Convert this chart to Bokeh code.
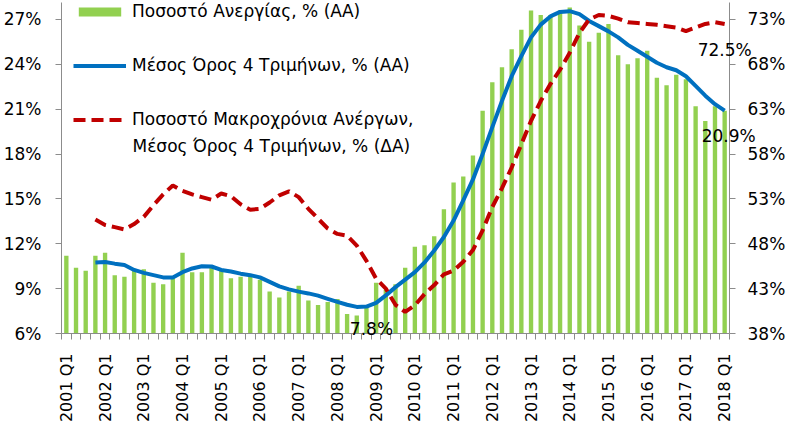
import math
from bokeh.plotting import figure
from bokeh.models import (Range1d, LinearAxis, FixedTicker, PrintfTickFormatter,
                          Legend, LegendItem, ColumnDataSource, Label)
from bokeh.core.properties import value
from bokeh.embed import file_html
from bokeh.resources import INLINE

# ---------------- data ----------------
quarters = [f"{y} Q{q}" for y in range(2001, 2019) for q in range(1, 5)][:69]

# Unemployment rate, % (left axis) - bars
unemployment = [
    11.2, 10.4, 10.2, 11.2,
    11.4, 9.9, 9.8, 10.3,
    10.3, 9.4, 9.3, 9.7,
    11.4, 10.1, 10.1, 10.4,
    10.2, 9.7, 9.8, 9.8,
    9.6, 8.8, 8.4, 8.8,
    9.2, 8.2, 7.9, 8.1,
    8.3, 7.3, 7.2, 7.9,
    9.4, 8.9, 9.3, 10.4,
    11.8, 11.9, 12.5, 14.3,
    16.1, 16.5, 17.9, 20.9,
    22.8, 23.8, 25.0, 26.3,
    27.6, 27.3, 27.3, 27.6,
    27.8, 26.6, 25.5, 26.1,
    26.7, 24.6, 24.0, 24.4,
    24.9, 23.1, 22.6, 23.3,
    23.0, 21.2, 20.2, 21.2,
    20.9,
]

# 4-quarter average unemployment, % (left axis) - blue line
avg4q = [
    None, None, None, 10.75,
    10.78, 10.67, 10.58, 10.25,
    10.05, 9.9, 9.75, 9.75,
    10.1, 10.35, 10.5, 10.48,
    10.25, 10.15, 10.0, 9.9,
    9.75, 9.45, 9.15, 8.95,
    8.8, 8.68, 8.53, 8.32,
    8.12, 7.92, 7.78, 7.8,
    8.05, 8.55, 9.1, 9.6,
    10.1, 10.75, 11.55, 12.45,
    13.55, 14.9, 16.3, 18.0,
    19.8, 21.55, 23.2, 24.55,
    25.8, 26.65, 27.2, 27.5,
    27.55, 27.35, 26.9, 26.55,
    26.2, 25.8, 25.3, 24.9,
    24.5, 24.1, 23.8, 23.6,
    23.2, 22.55, 21.9, 21.33,
    20.9,
]

# Long-term unemployed share, 4-quarter average, % (right axis) - red dashed
longterm = [
    None, None, None, 50.7,
    50.1, 49.85, 49.6, 50.2,
    51.0, 52.3, 53.5, 54.5,
    53.9, 53.5, 53.2, 52.9,
    53.6, 53.3, 52.4, 51.8,
    51.9, 52.6, 53.4, 53.85,
    53.2, 51.9, 50.8, 49.7,
    49.1, 48.9, 47.8, 46.1,
    44.1, 43.0, 41.2, 40.4,
    41.15, 42.4, 43.4, 44.6,
    45.0, 46.0, 47.3, 49.5,
    52.1, 54.2, 56.5, 59.1,
    61.7, 63.9, 65.8, 67.4,
    69.3, 71.5, 73.0, 73.5,
    73.4, 73.1, 72.7, 72.6,
    72.5, 72.4, 72.25, 72.1,
    71.7, 72.1, 72.5, 72.7,
    72.5,
]

left_ticks = [6, 9, 12, 15, 18, 21, 24, 27]
right_ticks = [38, 43, 48, 53, 58, 63, 68, 73]
labels_every = 4

series_names = [
    "Ποσοστό Ανεργίας, % (ΑΑ)",
    "Μέσος Όρος 4 Τριμήνων, % (ΑΑ)",
    "Ποσοστό Μακροχρόνια Ανέργων,",
]
series3_line2 = "Μέσος Όρος 4 Τριμήνων, % (ΔΑ)"

# ---------------- style ----------------
FONT = "DejaVu Sans"
FS = "17px"
FSX = "16px"
GREEN = "#92D050"
BLUE = "#0070C0"
RED = "#C00000"
AXIS = "#8C8C8C"

n = len(quarters)
x = list(range(n))
nan = float("nan")
src = ColumnDataSource(dict(
    x=x,
    unemp=unemployment,
    avg=[nan if v is None else v for v in avg4q],
    lt=[nan if v is None else v for v in longterm],
))

p = figure(width=789, height=425, output_backend="svg", toolbar_location=None,
           x_range=Range1d(-0.5, n - 0.5), y_range=Range1d(6, 28.13),
           min_border_left=60, min_border_right=60, min_border_top=2,
           min_border_bottom=91)
p.extra_y_ranges = {"right": Range1d(38, 74.89)}
p.xgrid.visible = False
p.ygrid.visible = False
p.outline_line_color = None
p.background_fill_color = "white"
p.border_fill_color = "white"

bars = p.vbar(x="x", top="unemp", bottom=0, width=0.45, source=src,
              fill_color=GREEN, line_color=None)
blue = p.line("x", "avg", source=src, line_color=BLUE, line_width=4,
              line_join="round")
red = p.line("x", "lt", source=src, y_range_name="right", line_color=RED,
             line_width=4, line_dash="12 6")

# x axis
xa = p.xaxis[0]
xa.ticker = FixedTicker(ticks=list(range(0, n, labels_every)),
                        minor_ticks=[i - 0.5 for i in range(n + 1)])
xa.major_label_overrides = {i: quarters[i] for i in range(0, n, labels_every)}
xa.major_label_orientation = math.pi / 2
xa.major_tick_line_color = None
xa.major_tick_out = 0
xa.major_tick_in = 0
xa.minor_tick_out = 6
xa.minor_tick_in = 0
xa.minor_tick_line_color = AXIS
xa.axis_line_color = AXIS
xa.major_label_standoff = 14
xa.major_label_text_font_size = FSX

# left axis
ya = p.yaxis[0]
ya.ticker = FixedTicker(ticks=left_ticks)
ya.formatter = PrintfTickFormatter(format="%d%%")
ya.major_label_text_font_size = FS

# right axis
ra = LinearAxis(y_range_name="right", ticker=FixedTicker(ticks=right_ticks),
                formatter=PrintfTickFormatter(format="%d%%"))
ra.major_label_text_font_size = FS
p.add_layout(ra, "right")

for ax, so in ((ya, 14), (ra, 12)):
    ax.minor_tick_line_color = None
    ax.major_tick_out = 6
    ax.major_tick_in = 0
    ax.major_tick_line_color = AXIS
    ax.axis_line_color = AXIS
    ax.major_label_standoff = so

for ax in (xa, ya, ra):
    ax.major_label_text_font = FONT
    ax.major_label_text_color = "#000000"

# data labels: text glyphs at overlay level so the frame does not clip them
def add_label(idx, vals, dx, dy, rng="default"):
    p.text(x=[idx], y=[vals[idx]], text=[f"{vals[idx]:.1f}%"], y_range_name=rng,
           x_offset=dx, y_offset=dy, text_font=value(FONT),
           text_font_size=FS, text_align="center", text_baseline="middle",
           text_color="#000000", level="overlay")

add_label(31, avg4q, 5, 22)
add_label(n - 1, avg4q, 4, 25)
add_label(n - 1, longterm, 0, 26, "right")

legend = Legend(items=[LegendItem(label=series_names[0], renderers=[bars]),
                       LegendItem(label=series_names[1], renderers=[blue]),
                       LegendItem(label=series_names[2], renderers=[red])],
                location=(12, 204), glyph_width=53, glyph_height=11,
                label_standoff=6, spacing=34, padding=0, margin=0,
                border_line_color=None, background_fill_alpha=0,
                label_text_font=FONT, label_text_font_size=FS,
                label_text_color="#000000")
p.add_layout(legend)

p.add_layout(Label(x=71, y=188, x_units="screen", y_units="screen",
                   text=series3_line2, text_font=FONT, text_font_size=FS,
                   text_baseline="middle", text_color="#000000"))

open("out.html", "w").write(file_html(p, INLINE))
